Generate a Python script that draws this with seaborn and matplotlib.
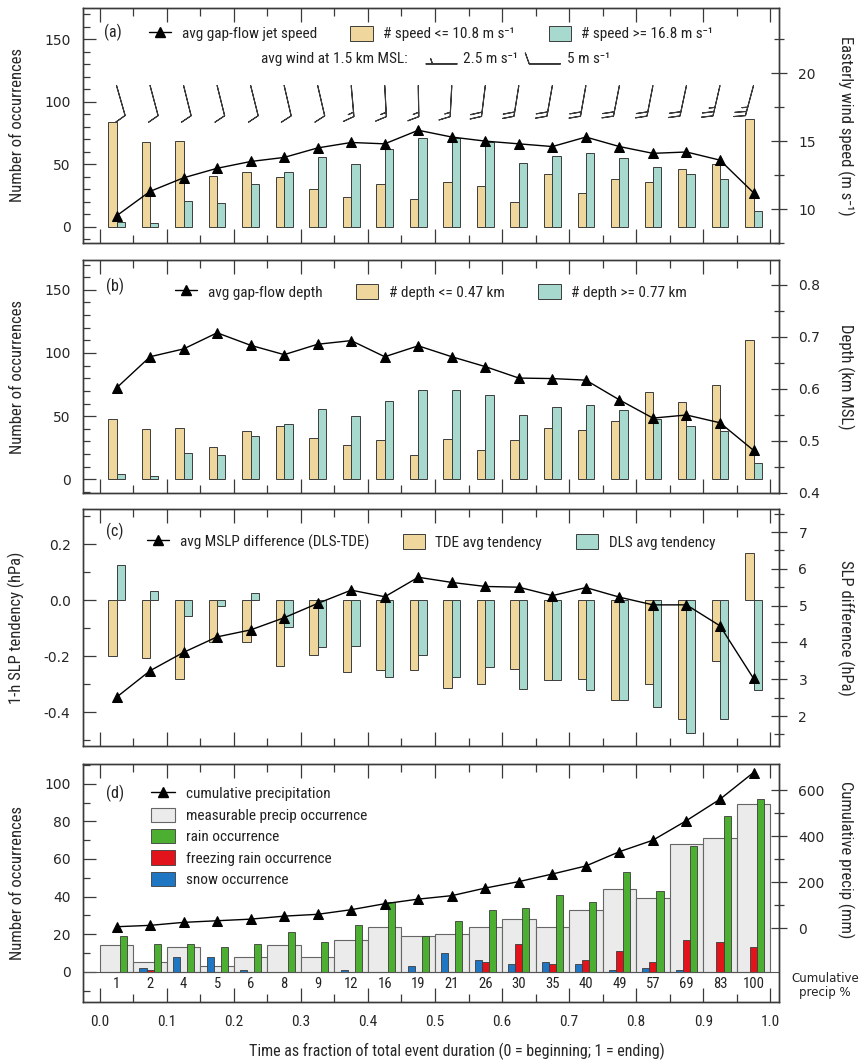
import matplotlib
matplotlib.use('Agg')
import matplotlib.pyplot as plt
import numpy as np
import seaborn as sns
from matplotlib import font_manager
from matplotlib.lines import Line2D
from matplotlib.patches import Patch
from matplotlib.ticker import MultipleLocator, FixedLocator, FormatStrFormatter

# bin centres: time as fraction of total event duration
time_frac = [0.025, 0.075, 0.125, 0.175, 0.225, 0.275, 0.325, 0.375, 0.425, 0.475,
             0.525, 0.575, 0.625, 0.675, 0.725, 0.775, 0.825, 0.875, 0.925, 0.975]

# (a) gap-flow jet speed
speed_low = [84, 68, 69, 41, 44, 40, 30, 24, 34, 22, 36, 33, 20, 42, 27, 38, 36, 46, 50, 86]
speed_high = [4, 3, 21, 19, 34, 44, 56, 50, 62, 71, 71, 68, 51, 57, 59, 55, 48, 42, 38, 13]
jet_speed = [9.5, 11.3, 12.3, 13.0, 13.5, 13.8, 14.5, 14.9, 14.8, 15.8,
             15.3, 15.0, 14.8, 14.6, 15.3, 14.6, 14.1, 14.2, 13.6, 11.2]
wind_speed = [5, 5, 5, 5, 5, 5, 5, 7.5, 7.5, 7.5, 7.5, 10, 10, 10, 10, 10, 10, 10, 12.5, 12.5]
wind_dir = [164, 165, 166, 166, 166, 167, 167, 175, 177, 179,
            183, 187, 189, 190, 190, 191, 191, 192, 193, 195]

# (b) gap-flow depth
depth_low = [48, 40, 41, 26, 38, 42, 33, 27, 31, 19, 32, 23, 31, 41, 39, 46, 69, 61, 75, 110]
depth_high = [4, 3, 21, 19, 34, 44, 56, 50, 62, 71, 71, 67, 51, 57, 59, 55, 48, 42, 38, 13]
flow_depth = [0.602, 0.662, 0.677, 0.708, 0.684, 0.666, 0.686, 0.693, 0.662, 0.683,
              0.662, 0.643, 0.621, 0.620, 0.617, 0.579, 0.544, 0.550, 0.535, 0.482]

# (c) SLP tendency and MSLP difference
tde_tend = [-0.199, -0.206, -0.282, -0.151, -0.151, -0.236, -0.195, -0.258, -0.248, -0.248,
            -0.313, -0.298, -0.246, -0.286, -0.282, -0.357, -0.298, -0.426, -0.217, 0.167]
dls_tend = [0.126, 0.031, -0.058, -0.023, 0.026, -0.095, -0.169, -0.163, -0.274, -0.196,
            -0.276, -0.238, -0.318, -0.286, -0.321, -0.357, -0.383, -0.476, -0.423, -0.321]
mslp_diff = [2.51, 3.23, 3.73, 4.15, 4.34, 4.67, 5.06, 5.42, 5.24, 5.77,
             5.63, 5.52, 5.50, 5.27, 5.49, 5.23, 5.02, 5.02, 4.45, 3.02]

# (d) precipitation
measurable = [14, 5, 13, 3, 8, 14, 8, 17, 24, 19, 20, 24, 28, 24, 33, 44, 39, 68, 71, 89]
rain = [19, 15, 15, 13, 15, 21, 16, 25, 37, 19, 27, 33, 34, 41, 37, 53, 43, 67, 83, 92]
frz_rain = [0, 1, 0, 0, 0, 0, 0, 0, 0, 0, 0, 5, 15, 4, 6, 11, 5, 17, 16, 13]
snow = [0, 2, 8, 8, 1, 0, 0, 1, 0, 3, 10, 6, 4, 5, 4, 1, 2, 1, 0, 0]
cum_precip = [7, 13, 26, 33, 40, 53, 61, 81, 107, 127, 142, 175, 203, 236, 271, 333, 383, 468, 561, 677]
cum_pct = ['1', '2', '4', '5', '6', '8', '9', '12', '16', '19',
           '21', '26', '30', '35', '40', '49', '57', '69', '83', '100']

TAN = '#EED69C'
TEAL = '#A7D9CF'
GRAY = '#EBEBEB'
GREEN = '#4DAF32'
RED = '#E3131B'
BLUE = '#1F77C4'
EDGE = '#3c3c3c'
SPINE = '#3a3a3a'

sns.set_style('ticks')
names = {f.name for f in font_manager.fontManager.ttflist}
narrow = next((f for f in ['Liberation Sans Narrow', 'Roboto Condensed', 'Open Sans Condensed',
                           'Roboto', 'Liberation Sans'] if f in names), 'DejaVu Sans')
plt.rcParams['font.family'] = [narrow, 'DejaVu Sans']
plt.rcParams['text.color'] = '#222222'

fig = plt.figure(figsize=(8.61, 10.60), dpi=100)
FW, FH, X0, X1 = 861, 1060, 83, 779


def panel(top, bottom):
    return fig.add_axes([X0 / FW, 1 - bottom / FH, (X1 - X0) / FW, (bottom - top) / FH])


ax_a, ax_b, ax_c, ax_d = panel(8, 243), panel(260, 493), panel(509, 746), panel(764, 1002)
tw_a, tw_b, tw_c, tw_d = ax_a.twinx(), ax_b.twinx(), ax_c.twinx(), ax_d.twinx()

tf = np.array(time_frac)
bw = 0.0125


def frame(ax, tw, ylim, yt, ym, ylim2, yt2, ym2, show_x=False):
    ax.set_xlim(-0.025, 1.013)
    ax.xaxis.set_major_locator(MultipleLocator(0.1))
    ax.xaxis.set_minor_locator(MultipleLocator(0.05))
    ax.xaxis.set_major_formatter(FormatStrFormatter('%.1f'))
    ax.tick_params(axis='x', which='both', direction='in', top=True, bottom=True,
                   labelbottom=show_x, labelsize=11, pad=9, color=SPINE, width=0.9)
    ax.tick_params(axis='x', which='major', length=10)
    ax.tick_params(axis='x', which='minor', length=6)
    ax.set_ylim(*ylim)
    ax.yaxis.set_major_locator(FixedLocator(yt))
    ax.yaxis.set_minor_locator(FixedLocator(ym))
    ax.tick_params(axis='y', which='both', direction='in', left=True, right=False,
                   labelsize=10, labelfontfamily='DejaVu Sans', pad=9, color=SPINE, width=0.9)
    ax.tick_params(axis='y', which='major', length=9)
    ax.tick_params(axis='y', which='minor', length=5)
    tw.set_ylim(*ylim2)
    tw.yaxis.set_major_locator(FixedLocator(yt2))
    tw.yaxis.set_minor_locator(FixedLocator(ym2))
    tw.tick_params(axis='y', which='both', direction='inout', right=True, left=False,
                   labelsize=10, labelfontfamily='DejaVu Sans', pad=8, color=SPINE, width=0.9)
    tw.tick_params(axis='y', which='major', length=12)
    tw.tick_params(axis='y', which='minor', length=7)
    for a in (ax, tw):
        for sp in a.spines.values():
            sp.set_color(SPINE)
            sp.set_linewidth(1.0)


def labels(ax, tw, left, right, ry=0.5):
    ax.set_ylabel(left, fontsize=12)
    ax.yaxis.set_label_coords(-0.083, 0.5)
    tw.set_ylabel(right, fontsize=12, rotation=270, va='bottom')
    tw.yaxis.set_label_coords(1.083, ry)


def trend(tw, y):
    sns.lineplot(x=time_frac, y=y, ax=tw, color='black', linewidth=1, marker='^',
                 markersize=7, markeredgecolor='black', legend=False)


def top_legend(tw, texts, y):
    handles = [Line2D([], [], color='black', lw=1, marker='^', ms=7),
               Patch(facecolor=TAN, edgecolor=EDGE, lw=0.7),
               Patch(facecolor=TEAL, edgecolor=EDGE, lw=0.7)]
    tw.legend(handles, texts, ncol=3, loc='upper center', bbox_to_anchor=(0.5, y),
              frameon=False, fontsize=11, handlelength=1.45, handleheight=1.15,
              handletextpad=0.7, columnspacing=2.2, borderpad=0, borderaxespad=0)


barb_kw = dict(length=6.7, pivot='tip', barb_increments=dict(half=2.5, full=5, flag=25),
               sizes=dict(height=0.35, spacing=0.14), linewidth=0.8, color='#3a3a3a')

# ---- (a)
ax_a.bar(tf - bw / 2, speed_low, width=bw, color=TAN, edgecolor=EDGE, linewidth=0.7)
ax_a.bar(tf + bw / 2, speed_high, width=bw, color=TEAL, edgecolor=EDGE, linewidth=0.7)
wd = np.radians(wind_dir)
ws = np.array(wind_speed)
ax_a.barbs(tf, np.full(len(tf), 113.0), -ws * np.sin(wd), -ws * np.cos(wd), **barb_kw)
trend(tw_a, jet_speed)
frame(ax_a, tw_a, (-13, 175), [0, 50, 100, 150], np.arange(-10, 171, 10),
      (7.5, 24.8), [10, 15, 20], [7.5, 12.5, 17.5, 22.5])
labels(ax_a, tw_a, 'Number of occurrences', 'Easterly wind speed (m s⁻¹)')
top_legend(tw_a, ['avg gap-flow jet speed', '# speed <= 10.8 m s⁻¹', '# speed >= 16.8 m s⁻¹'], 0.925)
ax_a.text(0.043, 0.897, '(a)', transform=ax_a.transAxes, ha='center', va='center', fontsize=11.5)
xt = ax_a.get_xaxis_transform()
ax_a.text(0.46, 0.781, 'avg wind at 1.5 km MSL:', transform=xt, ha='right', va='center', fontsize=11)
ax_a.barbs([0.533, 0.687], [0.762, 0.762], [2.5, 5], [0, 0], transform=xt, **barb_kw)
ax_a.text(0.542, 0.781, '2.5 m s⁻¹', transform=xt, ha='left', va='center', fontsize=11)
ax_a.text(0.697, 0.781, '5 m s⁻¹', transform=xt, ha='left', va='center', fontsize=11)

# ---- (b)
ax_b.bar(tf - bw / 2, depth_low, width=bw, color=TAN, edgecolor=EDGE, linewidth=0.7)
ax_b.bar(tf + bw / 2, depth_high, width=bw, color=TEAL, edgecolor=EDGE, linewidth=0.7)
trend(tw_b, flow_depth)
frame(ax_b, tw_b, (-10.8, 173.6), [0, 50, 100, 150], np.arange(-10, 171, 10),
      (0.4, 0.848), [0.4, 0.5, 0.6, 0.7, 0.8], [0.45, 0.55, 0.65, 0.75])
labels(ax_b, tw_b, 'Number of occurrences', 'Depth (km MSL)')
top_legend(tw_b, ['avg gap-flow depth', '# depth <= 0.47 km', '# depth >= 0.77 km'], 0.897)
ax_b.text(0.046, 0.888, '(b)', transform=ax_b.transAxes, ha='center', va='center', fontsize=11.5)

# ---- (c)
ax_c.bar(tf - bw / 2, tde_tend, width=bw, color=TAN, edgecolor=EDGE, linewidth=0.7)
ax_c.bar(tf + bw / 2, dls_tend, width=bw, color=TEAL, edgecolor=EDGE, linewidth=0.7)
trend(tw_c, mslp_diff)
frame(ax_c, tw_c, (-0.521, 0.325), [-0.4, -0.2, 0.0, 0.2], [-0.5, -0.3, -0.1, 0.1, 0.3],
      (1.185, 7.625), [2, 3, 4, 5, 6, 7], [1.5, 2.5, 3.5, 4.5, 5.5, 6.5, 7.5])
ax_c.yaxis.set_major_formatter(FormatStrFormatter('%.1f'))
labels(ax_c, tw_c, '1-h SLP tendency (hPa)', 'SLP difference (hPa)')
top_legend(tw_c, ['avg MSLP difference (DLS-TDE)', 'TDE avg tendency', 'DLS avg tendency'], 0.895)
ax_c.text(0.046, 0.905, '(c)', transform=ax_c.transAxes, ha='center', va='center', fontsize=11.5)

# ---- (d)
pw = 0.0105
ax_d.bar(tf, measurable, width=0.05, color=GRAY, edgecolor='#666666', linewidth=0.8)
ax_d.bar(tf - pw, snow, width=pw, color=BLUE, edgecolor=EDGE, linewidth=0.6)
ax_d.bar(tf, frz_rain, width=pw, color=RED, edgecolor=EDGE, linewidth=0.6)
ax_d.bar(tf + pw, rain, width=pw, color=GREEN, edgecolor=EDGE, linewidth=0.6)
ax_d.axhline(0, color='#555555', linewidth=0.8)
trend(tw_d, cum_precip)
frame(ax_d, tw_d, (-16.1, 110.5), [0, 20, 40, 60, 80, 100], np.arange(-10, 111, 10),
      (-320, 714), [0, 200, 400, 600], [100, 300, 500], show_x=True)
labels(ax_d, tw_d, 'Number of occurrences', 'Cumulative precip (mm)', ry=0.6)
for x, lab in zip(time_frac, cum_pct):
    ax_d.text(x, -6.3, lab, ha='center', va='center', fontsize=10.5)
ax_d.text(1.066, 0.071, 'Cumulative\nprecip %', transform=ax_d.transAxes, ha='center',
          va='center', fontsize=8.5, family='DejaVu Sans', linespacing=1.1)
ax_d.text(0.046, 0.875, '(d)', transform=ax_d.transAxes, ha='center', va='center', fontsize=11.5)
handles = [Line2D([], [], color='black', lw=1, marker='^', ms=7),
           Patch(facecolor=GRAY, edgecolor='#666666', lw=0.8),
           Patch(facecolor=GREEN, edgecolor=EDGE, lw=0.6),
           Patch(facecolor=RED, edgecolor=EDGE, lw=0.6),
           Patch(facecolor=BLUE, edgecolor=EDGE, lw=0.6)]
tw_d.legend(handles, ['cumulative precipitation', 'measurable precip occurrence', 'rain occurrence',
                      'freezing rain occurrence', 'snow occurrence'],
            loc='upper left', bbox_to_anchor=(0.098, 0.907), frameon=False, fontsize=11,
            handlelength=1.55, handleheight=1.05, handletextpad=0.75, labelspacing=0.4,
            borderpad=0, borderaxespad=0)
ax_d.set_xlabel('Time as fraction of total event duration (0 = beginning; 1 = ending)', fontsize=11.5)
ax_d.xaxis.set_label_coords(0.537, -0.172)

fig.savefig('out.png', dpi=100)
